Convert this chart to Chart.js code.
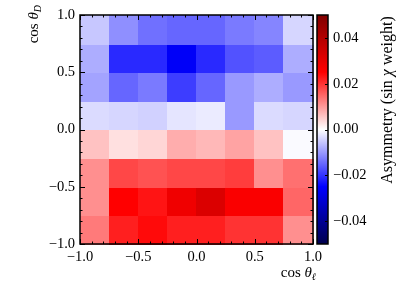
<!DOCTYPE html>
<html>
<head>
<meta charset="utf-8">
<script src="https://cdn.jsdelivr.net/npm/chart.js@4/dist/chart.umd.min.js"></script>
<style>
  html, body { margin: 0; padding: 0; background: #fff; }
  #wrap { width: 399px; height: 299px; }
</style>
</head>
<body>
<div id="wrap"><canvas id="asymChart" width="399" height="299"></canvas></div>
<script>
// bin edges along cos(theta_l) and cos(theta_D)
const xEdges = [-1.0, -0.75, -0.5, -0.25, 0.0, 0.25, 0.5, 0.75, 1.0]
const yEdges = [-1.0, -0.75, -0.5, -0.25, 0.0, 0.25, 0.5, 0.75, 1.0]

// asymmetry per bin, rows listed from the lowest cos(theta_D) bin upwards
const asymRows = [
    [0.013, 0.022, 0.024, 0.022, 0.022, 0.020, 0.020, 0.011],
    [0.011, 0.025, 0.023, 0.028, 0.032, 0.026, 0.026, 0.015],
    [0.011, 0.018, 0.017, 0.018, 0.018, 0.019, 0.011, 0.014],
    [0.006, 0.003, 0.004, 0.008, 0.007, 0.009, 0.006, -0.0005],
    [-0.0035, -0.004, -0.0045, -0.0025, -0.002, -0.010, -0.0035, -0.004],
    [-0.009, -0.015, -0.013, -0.019, -0.015, -0.010, -0.008, -0.010],
    [-0.008, -0.021, -0.021, -0.026, -0.021, -0.017, -0.016, -0.008],
    [-0.0055, -0.011, -0.014, -0.015, -0.015, -0.013, -0.012, -0.004],
]

const axisTicks = [-1.0, -0.5, 0.0, 0.5, 1.0]
const cbTicks = [-0.04, -0.02, 0.0, 0.02, 0.04]
const cbMin = -0.05
const cbMax = 0.05

const serif = "'Liberation Serif', 'DejaVu Serif', serif"
const tickSize = 14.5

// matplotlib 'seismic' colormap
const seismic = (v) => {
    let t = (v - cbMin) / (cbMax - cbMin)
    t = Math.max(0, Math.min(1, t))
    let r, g, b
    if (t < 0.25) {
        r = 0; g = 0; b = 0.3 + 0.7 * (t / 0.25)
    } else if (t < 0.5) {
        const s = (t - 0.25) / 0.25
        r = s; g = s; b = 1
    } else if (t < 0.75) {
        const s = 1 - (t - 0.5) / 0.25
        r = 1; g = s; b = s
    } else {
        r = 1 - 0.5 * ((t - 0.75) / 0.25); g = 0; b = 0
    }
    return 'rgb(' + Math.round(r * 255) + ',' + Math.round(g * 255) + ',' + Math.round(b * 255) + ')'
}

const fmt = (v, d) => {
    const s = Math.abs(v).toFixed(d)
    return (v < -1e-9 ? '\u2212' : '') + s
}

const cells = []
asymRows.forEach((row, j) => {
    row.forEach((v, i) => {
        cells.push({
            x: (xEdges[i] + xEdges[i + 1]) / 2,
            y: (yEdges[j] + yEdges[j + 1]) / 2,
            x0: xEdges[i], x1: xEdges[i + 1],
            y0: yEdges[j], y1: yEdges[j + 1],
            v: v
        })
    })
})

const setTicks = (list) => (scale) => {
    scale.ticks = list.map(v => ({value: v}))
}
// fixed axis sizes, no extra padding from the tick labels
const fixSize = (dim, size) => (s) => {
    s[dim] = size
    s.paddingTop = 0; s.paddingBottom = 0
    s.paddingLeft = 0; s.paddingRight = 0
}

// draw text pieces one after another: [text, font, dy]
const drawPieces = (ctx, pieces, x, y) => {
    let cx = x
    pieces.forEach(p => {
        ctx.font = p[1]
        ctx.fillText(p[0], cx, y + (p[2] || 0))
        cx += ctx.measureText(p[0]).width
    })
    return cx - x
}
const piecesWidth = (ctx, pieces) => {
    let w = 0
    pieces.forEach(p => { ctx.font = p[1]; w += ctx.measureText(p[0]).width })
    return w
}

const heatmapPlugin = {
    id: 'heatmap',
    beforeDatasetsDraw(chart) {
        const ctx = chart.ctx
        const xs = chart.scales.x, ys = chart.scales.y
        ctx.save()
        chart.data.datasets[0].data.forEach(c => {
            const l = xs.getPixelForValue(c.x0), r = xs.getPixelForValue(c.x1)
            const t = ys.getPixelForValue(c.y1), b = ys.getPixelForValue(c.y0)
            ctx.fillStyle = seismic(c.v)
            ctx.fillRect(Math.floor(l), Math.floor(t), Math.ceil(r - l) + 1, Math.ceil(b - t) + 1)
        })
        ctx.restore()
    },
    afterDraw(chart) {
        const ctx = chart.ctx
        const a = chart.chartArea
        const xs = chart.scales.x, ys = chart.scales.y, cs = chart.scales.cb
        ctx.save()
        ctx.strokeStyle = '#000'
        ctx.lineWidth = 1

        // inward ticks on all four sides
        for (let k = -10; k <= 10; k++) {
            const v = k / 10
            const len = (k % 5 === 0) ? 5 : 2.5
            const px = Math.round(xs.getPixelForValue(v)) + 0.5
            const py = Math.round(ys.getPixelForValue(v)) + 0.5
            ctx.beginPath()
            ctx.moveTo(px, a.bottom); ctx.lineTo(px, a.bottom - len)
            ctx.moveTo(px, a.top); ctx.lineTo(px, a.top + len)
            ctx.moveTo(a.left, py); ctx.lineTo(a.left + len, py)
            ctx.moveTo(a.right, py); ctx.lineTo(a.right - len, py)
            ctx.stroke()
        }
        ctx.lineWidth = 1.5
        ctx.strokeRect(a.left, a.top, a.right - a.left, a.bottom - a.top)

        // colorbar
        const cbL = a.right + 4, cbW = 11
        const top = cs.getPixelForValue(cbMax), bot = cs.getPixelForValue(cbMin)
        for (let p = Math.floor(top); p < bot; p++) {
            ctx.fillStyle = seismic(cs.getValueForPixel(p + 0.5))
            ctx.fillRect(cbL, p, cbW, 1)
        }
        ctx.lineWidth = 1.5
        ctx.strokeRect(cbL, top, cbW, bot - top)
        ctx.lineWidth = 1
        cbTicks.forEach(v => {
            const py = Math.round(cs.getPixelForValue(v)) + 0.5
            ctx.beginPath()
            ctx.moveTo(cbL + cbW, py); ctx.lineTo(cbL + cbW - 3, py)
            ctx.stroke()
        })

        // axis labels
        ctx.fillStyle = '#000'
        ctx.textBaseline = 'alphabetic'
        const xl = [['cos ', '15px ' + serif], ['\u03b8', 'italic 15px ' + serif], ['\u2113', 'italic 10px ' + serif, 3]]
        drawPieces(ctx, xl, a.right + 3 - piecesWidth(ctx, xl), 277)

        const yl = [['cos ', '15px ' + serif], ['\u03b8', 'italic 15px ' + serif], ['D', 'italic 10px ' + serif, 3]]
        ctx.save()
        ctx.translate(38, 5 + piecesWidth(ctx, yl))
        ctx.rotate(-Math.PI / 2)
        drawPieces(ctx, yl, 0, 0)
        ctx.restore()

        const cl = [['Asymmetry (sin ', '16px ' + serif], ['\u03c7', 'italic 16px ' + serif], [' weight)', '16px ' + serif]]
        ctx.save()
        ctx.translate(392, 100 + piecesWidth(ctx, cl) / 2)
        ctx.rotate(-Math.PI / 2)
        drawPieces(ctx, cl, 0, 0)
        ctx.restore()

        ctx.restore()
    }
}

new Chart(document.getElementById('asymChart'), {
    type: 'scatter',
    data: {
        datasets: [{
            label: 'asymmetry',
            data: cells,
            pointRadius: 0,
            pointHoverRadius: 0
        }]
    },
    options: {
        responsive: false,
        animation: false,
        events: [],
        layout: { padding: { top: 15, left: 0, right: 0, bottom: 0 } },
        plugins: { legend: { display: false }, tooltip: { enabled: false } },
        scales: {
            x: {
                type: 'linear', position: 'bottom', min: -1, max: 1,
                afterBuildTicks: setTicks(axisTicks),
                afterFit: fixSize('height', 55),
                grid: { display: false, drawTicks: false },
                border: { display: false },
                ticks: {
                    color: '#000', padding: 4, maxRotation: 0,
                    font: { family: serif, size: tickSize },
                    callback: v => fmt(v, 1)
                }
            },
            y: {
                type: 'linear', position: 'left', min: -1, max: 1,
                afterBuildTicks: setTicks(axisTicks),
                afterFit: fixSize('width', 80),
                grid: { display: false, drawTicks: false },
                border: { display: false },
                ticks: {
                    color: '#000', padding: 5,
                    font: { family: serif, size: tickSize },
                    callback: v => fmt(v, 1)
                }
            },
            cb: {
                type: 'linear', position: 'right', min: cbMin, max: cbMax,
                afterBuildTicks: setTicks(cbTicks),
                afterFit: fixSize('width', 86),
                grid: { display: false, drawTicks: false },
                border: { display: false },
                ticks: {
                    color: '#000', padding: 20,
                    font: { family: serif, size: tickSize },
                    callback: v => fmt(v, 2)
                }
            }
        }
    },
    plugins: [heatmapPlugin]
})
</script>
</body>
</html>
